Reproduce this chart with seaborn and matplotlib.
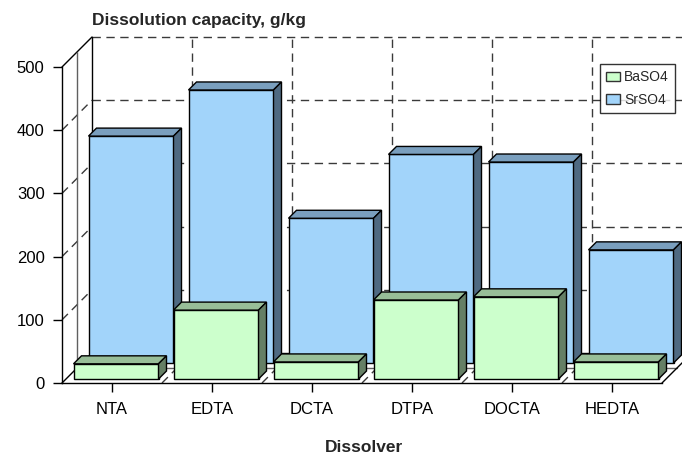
import numpy as np
import pandas as pd
import matplotlib

matplotlib.use("Agg")

import matplotlib.pyplot as plt
import seaborn as sns
from matplotlib.patches import Polygon, Patch
from matplotlib.lines import Line2D
from matplotlib.transforms import ScaledTranslation, IdentityTransform

# data
dissolvers = ["NTA", "EDTA", "DCTA", "DTPA", "DOCTA", "HEDTA"]
baso4 = [24, 109, 27, 125, 130, 27]
srso4 = [359, 432, 229, 330, 318, 179]
y_ticks = [0, 100, 200, 300, 400, 500]

df = pd.DataFrame({
    "Dissolver": dissolvers * 2,
    "Salt": ["BaSO4"] * len(dissolvers) + ["SrSO4"] * len(dissolvers),
    "Capacity": baso4 + srso4,
})

sns.set_style("white")
plt.rcParams["font.family"] = ["Liberation Sans", "DejaVu Sans"]

W, H, DPI = 682, 457, 100
fig = plt.figure(figsize=(W / DPI, H / DPI), dpi=DPI)
ax = fig.add_axes([62 / W, 1 - 383 / H, 600 / W, 316 / H])

# colours: face, top, side
blue = ("#A2D4FA", "#7A9FBE", "#4F6A82")
green = ("#CCFFCC", "#98BE98", "#657F65")

WALL = 30       # depth of the whole box, pixels
MID = 15        # line between the two rows
BAR_DEPTH = 8
GRID = dict(color="#3a3a3a", lw=1, linestyle=(0, (6, 4)))

sns.barplot(data=df[df.Salt == "SrSO4"], x="Dissolver", y="Capacity",
            color=blue[0], saturation=1, width=0.85, errorbar=None,
            edgecolor="black", linewidth=1, ax=ax)
n_back = len(ax.patches)
sns.barplot(data=df[df.Salt == "BaSO4"], x="Dissolver", y="Capacity",
            color=green[0], saturation=1, width=0.85, errorbar=None,
            edgecolor="black", linewidth=1, ax=ax)

ax.set_xlim(-0.5, len(dissolvers) - 0.5)
ax.set_ylim(0, 500)
ax.set_autoscale_on(False)
ax.set_xlabel("")
ax.set_ylabel("")
ax.set_yticks(y_ticks)
ax.tick_params(axis="both", which="major", left=True, bottom=True, direction="out",
               length=6.5, width=1, color="black", labelsize=12, labelcolor="black")
ax.tick_params(axis="y", pad=6)
ax.tick_params(axis="x", pad=7)
for side in ["top", "right"]:
    ax.spines[side].set_visible(False)
for side in ["left", "bottom"]:
    ax.spines[side].set_color("black")
    ax.spines[side].set_linewidth(1)
ax.patch.set_alpha(0)

ident = IdentityTransform()


def to_px(x, y, off=0):
    px, py = ax.transData.transform((x, y))
    return px + off, py + off


def seg(p, q, z=1, **kw):
    ax.add_line(Line2D([p[0], q[0]], [p[1], q[1]], transform=ident,
                       clip_on=False, zorder=z, **kw))


x_lo, x_hi = -0.5, len(dissolvers) - 0.5

# back wall
for t in y_ticks[1:]:
    seg(to_px(x_lo, t, WALL), to_px(x_hi, t, WALL), **GRID)
seg(to_px(x_lo, 0, WALL), to_px(x_hi, 0, WALL), color="black", lw=1)
seg(to_px(x_lo, 0, WALL), to_px(x_lo, 500, WALL), color="black", lw=1)
for b in np.arange(0.5, len(dissolvers) - 0.5):
    seg(to_px(b, 0, WALL), to_px(b, 500, WALL), **GRID)
    # floor lines between categories
    seg(to_px(b, 0), to_px(b, 0, WALL), **GRID)

# left wall
for t in y_ticks[1:-1]:
    seg(to_px(x_lo, t), to_px(x_lo, t, WALL), **GRID)
seg(to_px(x_lo, 500), to_px(x_lo, 500, WALL), color="black", lw=1)
seg(to_px(x_lo, 0), to_px(x_lo, 0, WALL), color="black", lw=1)
seg(to_px(x_lo, 0, MID), to_px(x_lo, 500, MID), color="#606060", lw=1)

# floor
seg(to_px(x_lo, 0, MID), to_px(x_hi, 0, MID), color="#606060", lw=1)
seg(to_px(x_hi, 0), to_px(x_hi, 0, WALL), color="black", lw=1)


def extrude(patches, dx, dy, cols, z):
    for p in patches:
        p.set_transform(ax.transData + ScaledTranslation(dx / DPI, dy / DPI, fig.dpi_scale_trans))
        p.set_clip_on(False)
        p.set_zorder(z)
        x0, x1, h = p.get_x(), p.get_x() + p.get_width(), p.get_height()
        X0, Y0 = ax.transData.transform((x0, 0))
        X1, Y1 = ax.transData.transform((x1, h))
        X0, X1, Y0, Y1 = X0 + dx, X1 + dx, Y0 + dy, Y1 + dy
        d = BAR_DEPTH
        top = [(X0, Y1), (X1, Y1), (X1 + d, Y1 + d), (X0 + d, Y1 + d)]
        side = [(X1, Y0), (X1 + d, Y0 + d), (X1 + d, Y1 + d), (X1, Y1)]
        for pts, c in [(top, cols[1]), (side, cols[2])]:
            ax.add_patch(Polygon(pts, closed=True, facecolor=c, edgecolor="black",
                                 lw=1, transform=ident, clip_on=False, zorder=z))


extrude(ax.patches[:n_back], 19, 20, blue, 3)
extrude(ax.patches[n_back:n_back + len(dissolvers)], 4, 4, green, 4)

fig.text(92 / W, 1 - 21 / H, "Dissolution capacity, g/kg", fontsize=12.5,
         fontweight="bold", ha="left", va="center")
fig.text(364 / W, 1 - 447 / H, "Dissolver", fontsize=12.5,
         fontweight="bold", ha="center", va="center")

handles = [Patch(facecolor=green[0], edgecolor="#333333", label="BaSO4"),
           Patch(facecolor=blue[0], edgecolor="#333333", label="SrSO4")]
leg = fig.legend(handles=handles, loc="upper left", bbox_to_anchor=(600 / W, 1 - 64 / H),
                 fontsize=10, frameon=True, fancybox=False, borderpad=0.45,
                 handlelength=1.0, handleheight=0.7, handletextpad=0.3,
                 labelspacing=0.6, borderaxespad=0)
leg.get_frame().set_edgecolor("black")
leg.get_frame().set_linewidth(1)

fig.savefig("out.png", dpi=DPI)
